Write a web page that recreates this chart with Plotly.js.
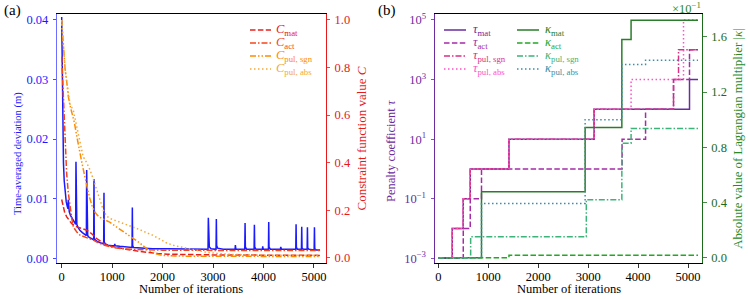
<!DOCTYPE html>
<html><head><meta charset="utf-8">
<script src="https://cdn.plot.ly/plotly-3.0.1.min.js"></script>
<style>html,body{margin:0;padding:0;background:#fff;}#chart{width:748px;height:299px;}</style>
</head><body><div id="chart"></div>
<script>
// ---------- Panel (a): time-averaged deviation (left axis) ----------
const devIter = [0,8,16,25,35,50,70,90,110,125,131,138,150,175,210,245,277,283,289,300,
  320,360,410,460,489,495,501,515,545,595,634,640,646,665,705,765,832,838,844,865,
  920,1000,1045,1052,1060,1150,1250,1350,1394,1400,1406,1425,1550,1800,2100,2400,2700,
  2900,2906,2912,2926,2960,3059,3065,3071,3090,3200,3436,3442,3452,3628,3634,3640,3665,
  3813,3819,3825,3850,3978,3984,3994,4097,4103,4109,4135,4335,4341,4355,4639,4645,4651,4675,
  4751,4757,4763,4785,4864,4870,4876,4900,5003,5009,5015,5040,5120];
const devVal = [0.0405,0.033,0.025,0.0195,0.016,0.013,0.0108,0.0095,0.0087,0.0083,0.0098,0.0082,0.0078,0.0072,0.0066,0.0061,0.0057,0.0162,0.0058,0.0057,
  0.0052,0.0047,0.0043,0.004,0.0038,0.0148,0.0042,0.0038,0.0035,0.0032,0.0031,0.0133,0.0034,0.0031,0.0028,0.0026,0.0024,0.011,0.0027,0.0024,
  0.0022,0.0021,0.0021,0.0024,0.0021,0.002,0.0019,0.0018,0.0018,0.0085,0.0021,0.0018,0.0017,0.0016,0.0016,0.0016,0.0015,
  0.0015,0.0068,0.0024,0.0019,0.0016,0.0015,0.0066,0.0022,0.0017,0.0015,0.0015,0.0022,0.0015,0.0015,0.0059,0.0019,0.0015,
  0.0015,0.0056,0.0019,0.0015,0.0015,0.002,0.0015,0.0015,0.0061,0.0019,0.0015,0.0015,0.0019,0.0015,0.0015,0.0057,0.0018,0.0015,
  0.0015,0.0053,0.0017,0.0015,0.0015,0.0052,0.0017,0.0015,0.0014,0.0052,0.0016,0.0014,0.0014];

// ---------- Panel (a): constraint function values (right axis) ----------
const cMatIter = [0,30,60,100,150,200,300,400,500,600,700,800,900,1000,1150,1300,1500,1700,1900,2100,2500,3000,4000,5120];
const cMatVal  = [0.245,0.21,0.19,0.172,0.155,0.143,0.13,0.124,0.116,0.1,0.08,0.065,0.053,0.047,0.04,0.035,0.028,0.022,0.018,0.015,0.013,0.012,0.011,0.01];
const cActIter = [0,15,32,48,65,80,98,130,164,200,230,300,363,430,495,560,627,700,759,850,1023,1200,1420,1700,2000,3000,4000,5120];
const cActVal  = [0.846,0.76,0.66,0.575,0.495,0.42,0.355,0.275,0.215,0.165,0.13,0.108,0.095,0.09,0.086,0.08,0.074,0.066,0.06,0.052,0.043,0.038,0.035,0.033,0.032,0.031,0.031,0.031];
const cSgnIter = [0,20,40,65,100,130,165,200,250,300,350,400,450,500,550,600,650,700,760,850,950,1050,1150,1250,1350,1450,1550,1650,1750,1850,2000,2300,3000,4000,5120];
const cSgnVal  = [1.0,0.94,0.87,0.8,0.74,0.68,0.64,0.61,0.57,0.51,0.45,0.4,0.35,0.3,0.255,0.22,0.195,0.18,0.17,0.16,0.15,0.135,0.12,0.105,0.09,0.078,0.062,0.044,0.028,0.017,0.01,0.007,0.006,0.005,0.005];
const cAbsIter = [0,20,40,65,100,130,165,230,300,360,425,495,560,627,693,759,825,891,960,1023,1150,1300,1420,1550,1684,1800,1950,2080,2250,2470,2700,2870,3100,3400,4000,5120];
const cAbsVal  = [1.0,0.94,0.87,0.8,0.74,0.69,0.645,0.62,0.55,0.48,0.425,0.4,0.37,0.33,0.285,0.24,0.2,0.175,0.165,0.16,0.15,0.14,0.13,0.118,0.105,0.095,0.078,0.062,0.05,0.04,0.03,0.023,0.018,0.014,0.011,0.01];

// ---------- Panel (b): penalty coefficients (left, log) ----------
const tauMatIter = [0,280,500,640,1415,3120,5030,5200];
const tauMatVal  = [1e-3,1e-2,1e-1,1,10,100,1000,1000];
const tauActIter = [0,500,640,865,3680,4150,4710,5030,5200];
const tauActVal  = [1e-3,1e-2,1e-1,1,10,100,1000,1e4,1e4];
const tauSgnIter = [0,280,500,640,1415,3120,4710,4810,5200];
const tauSgnVal  = [1e-3,1e-2,1e-1,1,10,100,1000,1e4,1e4];
const tauAbsIter = [0,280,500,640,1415,3120,3860,4910,5200];
const tauAbsVal  = [1e-3,1e-2,1e-1,1,10,100,1000,1e5,1e5];

// ---------- Panel (b): |Lagrangian multiplier| x 10^-1 (right) ----------
const kapMatIter = [0,865,2940,3675,3860,5200];
const kapMatVal  = [0,0.478,0.944,1.58,1.72,1.72];
const kapActIter = [0,1415,5200];
const kapActVal  = [0,0.019,0.019];
const kapSgnIter = [0,648,2964,3675,3860,5200];
const kapSgnVal  = [0,0.152,0.42,0.83,0.936,0.936];
const kapAbsIter = [0,865,2940,3675,4150,5200];
const kapAbsVal  = [0,0.393,1.0,1.40,1.43,1.43];

const xTicks = [0,1000,2000,3000,4000,5000];
const devTicks = [0,0.01,0.02,0.03,0.04];
const cTicks = [0,0.2,0.4,0.6,0.8,1.0];
const tauTicks = [1e-3,1e-1,1e1,1e3,1e5];
const tauTickText = ['10<sup>−3</sup>','10<sup>−1</sup>','10<sup>1</sup>','10<sup>3</sup>','10<sup>5</sup>'];
const kapTicks = [0,0.4,0.8,1.2,1.6];

// ---------- styling ----------
const W = 748, H = 299;
const px = v => v / W, py = v => 1 - v / H;
const FONT = 'Liberation Serif, Times New Roman, serif';
const DASH = '5.5px,2.4px', DASHDOT = '6px,2px,1.5px,2px', DASHDOTDOT = '6px,2px,1.5px,2px,1.5px,2px', DOT = '1.5px,2.5px';
const col = {
  blue:'#1a1aff', cMat:'#e8201c', cAct:'#f5461b', cSgn:'#ff8c00', cAbs:'#f2a93b',
  tMat:'#6a2c9e', tAct:'#a42ca6', tSgn:'#dc2f86', tAbs:'#ff52c8',
  kMat:'#2a7d2a', kAct:'#23a823', kSgn:'#3cb378', kAbs:'#3a8fa8',
  red:'#e41a1c', purple:'#6a2c9e', green:'#2a8a2a'
};

function tr(x, y, xa, ya, color, dash, name, shape) {
  return {x, y, xaxis:xa, yaxis:ya, type:'scatter', mode:'lines', name,
    line:{color, width:1.5, dash, shape: shape || 'linear'}, showlegend:false, hoverinfo:'skip'};
}

const data = [
  tr(devIter, devVal, 'x', 'y', col.blue, 'solid', 'deviation'),
  tr(cMatIter, cMatVal, 'x', 'y2', col.cMat, DASH, 'C_mat'),
  tr(cActIter, cActVal, 'x', 'y2', col.cAct, DASHDOT, 'C_act'),
  tr(cSgnIter, cSgnVal, 'x', 'y2', col.cSgn, DASHDOTDOT, 'C_pul,sgn'),
  tr(cAbsIter, cAbsVal, 'x', 'y2', col.cAbs, DOT, 'C_pul,abs'),
  tr(tauMatIter, tauMatVal, 'x2', 'y3', col.tMat, 'solid', 'tau_mat', 'hv'),
  tr(tauActIter, tauActVal, 'x2', 'y3', col.tAct, DASH, 'tau_act', 'hv'),
  tr(tauSgnIter, tauSgnVal, 'x2', 'y3', col.tSgn, DASHDOT, 'tau_pul,sgn', 'hv'),
  tr(tauAbsIter, tauAbsVal, 'x2', 'y3', col.tAbs, DOT, 'tau_pul,abs', 'hv'),
  tr(kapMatIter, kapMatVal, 'x2', 'y4', col.kMat, 'solid', 'kappa_mat', 'hv'),
  tr(kapActIter, kapActVal, 'x2', 'y4', col.kAct, DASH, 'kappa_act', 'hv'),
  tr(kapSgnIter, kapSgnVal, 'x2', 'y4', col.kSgn, DASHDOT, 'kappa_pul,sgn', 'hv'),
  tr(kapAbsIter, kapAbsVal, 'x2', 'y4', col.kAbs, DOT, 'kappa_pul,abs', 'hv')
];

const yDom = [py(263), py(14)];
const tickFont = c => ({family:FONT, size:12.5, color:c});
const baseX = {
  showgrid:false, zeroline:false, showline:true, linecolor:'#000', linewidth:1, mirror:true,
  ticks:'outside', ticklen:3.5, tickwidth:0.8, tickcolor:'#000', tickvals:xTicks,
  ticktext:xTicks.map(String), tickfont:tickFont('#000'), ticklabelstandoff:-2
};
function yAx(o) {
  return Object.assign({showgrid:false, zeroline:false, showline:true, linewidth:1,
    ticks:'outside', ticklen:3.5, tickwidth:0.8, ticklabelstandoff:2}, o);
}

const layout = {
  width:W, height:H, margin:{l:0, r:0, t:0, b:0}, paper_bgcolor:'#fff', plot_bgcolor:'#fff',
  showlegend:false,
  xaxis: Object.assign({}, baseX, {domain:[px(57.3), px(325.5)], range:[-87, 5228], anchor:'y'}),
  xaxis2: Object.assign({}, baseX, {domain:[px(435), px(702.3)], range:[-66, 5286], anchor:'y3'}),
  yaxis: yAx({domain:yDom, anchor:'x', range:[-0.0008, 0.0410], linecolor:'rgba(60,60,255,0.75)', tickcolor:col.blue,
    tickvals:devTicks, ticktext:devTicks.map(v=>v.toFixed(2)), tickfont:tickFont(col.blue)}),
  yaxis2: yAx({overlaying:'y', anchor:'x', side:'right', range:[-0.022, 1.025], linecolor:col.red, tickcolor:col.red,
    tickvals:cTicks, ticktext:cTicks.map(v=>v.toFixed(1)), tickfont:tickFont(col.red),
    title:{text:'Constraint function value <i>C</i>', font:{family:FONT, size:13, color:col.red}, standoff:7}}),
  yaxis3: yAx({domain:yDom, anchor:'x2', type:'log', range:[-3.157, 5.201], linecolor:col.purple, tickcolor:col.purple,
    tickvals:tauTicks, ticktext:tauTickText, tickfont:tickFont(col.purple)}),
  yaxis4: yAx({overlaying:'y3', anchor:'x2', side:'right', range:[-0.038, 1.765], linecolor:'#1b6b1b', tickcolor:'#1b6b1b',
    tickvals:kapTicks, ticktext:kapTicks.map(v=>v.toFixed(1)), tickfont:tickFont('#1b6b1b'),
    title:{text:'Absolute value of Lagrangian multiplier |<i>κ</i>|', font:{family:FONT, size:12.8, color:col.green}, standoff:6}}),
  shapes: [], annotations: []
};

function legendRow(xl0, xl1, xt, y, color, dash, text) {
  layout.shapes.push({type:'line', xref:'paper', yref:'paper', x0:px(xl0), x1:px(xl1), y0:py(y), y1:py(y),
    line:{color, width:1.5, dash}});
  layout.annotations.push({xref:'paper', yref:'paper', x:px(xt), y:py(y), xanchor:'left', yanchor:'middle',
    showarrow:false, borderpad:0, text, font:{family:FONT, size:12.5, color}});
}
const rowsY = [30, 43, 56, 69];
legendRow(250, 271, 275, rowsY[0], col.cMat, DASH, '<i>C</i><sub>mat</sub>');
legendRow(250, 271, 275, rowsY[1], col.cAct, DASHDOT, '<i>C</i><sub>act</sub>');
legendRow(250, 271, 275, rowsY[2], col.cSgn, DASHDOTDOT, '<i>C</i><sub>pul, sgn</sub>');
legendRow(250, 271, 275, rowsY[3], col.cAbs, DOT, '<i>C</i><sub>pul, abs</sub>');
legendRow(444, 466, 472, rowsY[0], col.tMat, 'solid', '<i>τ</i><sub>mat</sub>');
legendRow(444, 466, 472, rowsY[1], col.tAct, DASH, '<i>τ</i><sub>act</sub>');
legendRow(444, 466, 472, rowsY[2], col.tSgn, DASHDOT, '<i>τ</i><sub>pul, sgn</sub>');
legendRow(444, 466, 472, rowsY[3], col.tAbs, DOT, '<i>τ</i><sub>pul, abs</sub>');
legendRow(517, 539, 544, rowsY[0], col.kMat, 'solid', '<i>κ</i><sub>mat</sub>');
legendRow(517, 539, 544, rowsY[1], col.kAct, DASH, '<i>κ</i><sub>act</sub>');
legendRow(517, 539, 544, rowsY[2], col.kSgn, DASHDOT, '<i>κ</i><sub>pul, sgn</sub>');
legendRow(517, 539, 544, rowsY[3], col.kAbs, DOT, '<i>κ</i><sub>pul, abs</sub>');

const titleFont = c => ({family:FONT, size:12.5, color:c});
layout.annotations.push(
  {xref:'paper', yref:'paper', x:px(2), y:py(11), xanchor:'left', yanchor:'middle', showarrow:false,
   text:'(a)', font:{family:FONT, size:15, color:'#000'}},
  {xref:'paper', yref:'paper', x:px(376), y:py(11), xanchor:'left', yanchor:'middle', showarrow:false,
   text:'(b)', font:{family:FONT, size:15, color:'#000'}},
  {xref:'paper', yref:'paper', x:px(703), y:py(8), xanchor:'right', yanchor:'middle', showarrow:false,
   text:'×10<sup>−1</sup>', font:{family:FONT, size:12.5, color:col.green}},
  // axis titles placed as in the reference
  {xref:'paper', yref:'paper', x:px(191.4), y:0, xanchor:'center', yanchor:'bottom', yshift:2, showarrow:false,
   borderpad:0, text:'Number of iterations', font:titleFont('#000')},
  {xref:'paper', yref:'paper', x:px(568.6), y:0, xanchor:'center', yanchor:'bottom', yshift:2, showarrow:false,
   borderpad:0, text:'Number of iterations', font:titleFont('#000')},
  {xref:'paper', yref:'paper', x:px(18), y:py(154), xanchor:'center', yanchor:'middle', showarrow:false, textangle:-90,
   text:'Time-averaged deviation (m)', font:{family:FONT, size:10.5, color:col.blue}},
  {xref:'paper', yref:'paper', x:px(391), y:py(151), xanchor:'center', yanchor:'middle', showarrow:false, textangle:-90,
   text:'Penalty coefficient <i>τ</i>', font:titleFont(col.purple)}
);

Plotly.newPlot('chart', data, layout, {displayModeBar:false, staticPlot:true});
</script></body></html>
